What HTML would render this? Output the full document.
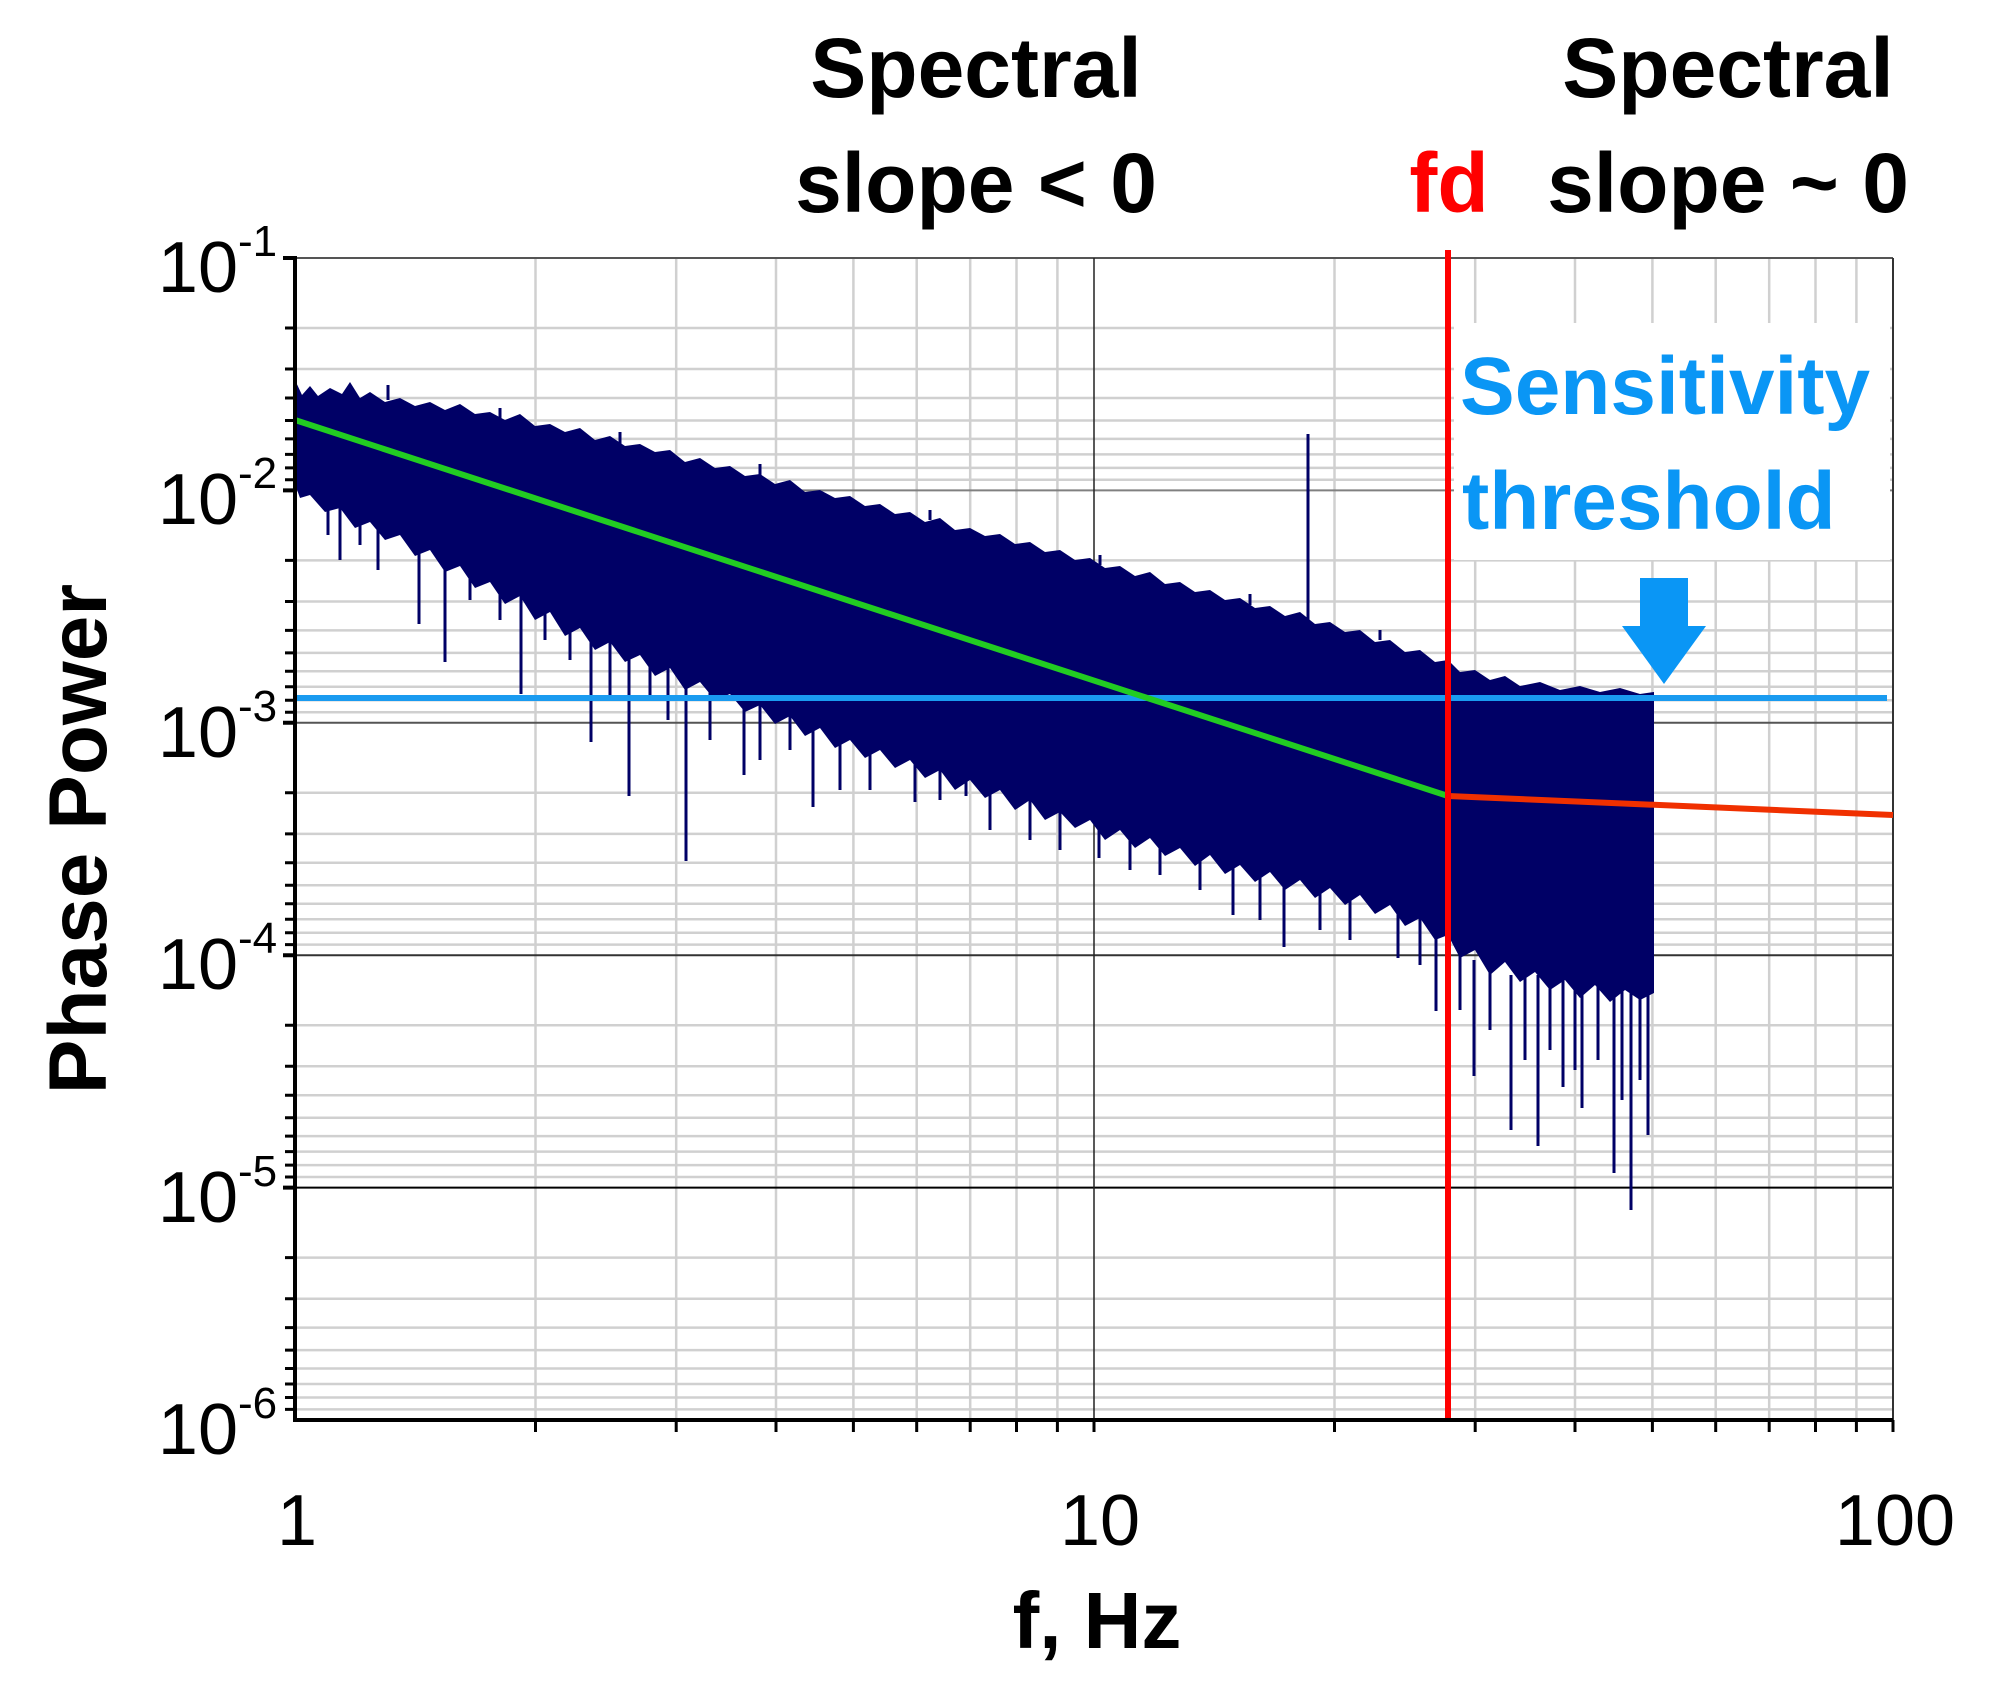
<!DOCTYPE html>
<html><head><meta charset="utf-8"><style>
html,body{margin:0;padding:0;background:#fff;}
svg{display:block;}
text{font-family:"Liberation Sans",sans-serif;}
</style></head><body>
<svg width="1993" height="1687" viewBox="0 0 1993 1687" xmlns="http://www.w3.org/2000/svg">
<rect width="1993" height="1687" fill="#fff"/>
<g stroke="#d0d0d0" stroke-width="2.5">
<path d="M295 328.0H1893M295 369.0H1893M295 398.0H1893M295 420.5H1893M295 438.9H1893M295 454.4H1893M295 467.9H1893M295 479.8H1893
M295 560.4H1893M295 601.5H1893M295 630.4H1893M295 652.9H1893M295 671.3H1893M295 686.8H1893M295 700.3H1893M295 712.2H1893
M295 792.8H1893M295 833.9H1893M295 862.8H1893M295 885.3H1893M295 903.7H1893M295 919.2H1893M295 932.7H1893M295 944.6H1893
M295 1025.2H1893M295 1066.3H1893M295 1095.2H1893M295 1117.7H1893M295 1136.1H1893M295 1151.6H1893M295 1165.1H1893M295 1177.0H1893
M295 1257.6H1893M295 1298.7H1893M295 1327.6H1893M295 1350.1H1893M295 1368.5H1893M295 1384.0H1893M295 1397.5H1893M295 1409.4H1893"/>
<path d="M535.5 258V1420M676.2 258V1420M776 258V1420M853.4 258V1420M916.7 258V1420M970.2 258V1420M1016.5 258V1420M1057.4 258V1420
M1334.5 258V1420M1475.2 258V1420M1575 258V1420M1652.4 258V1420M1715.7 258V1420M1769.2 258V1420M1815.5 258V1420M1856.4 258V1420"/>
</g>
<g stroke-width="2">
<line x1="295" x2="1893" y1="490.4" y2="490.4" stroke="#808080"/>
<line x1="295" x2="1893" y1="722.8" y2="722.8" stroke="#555"/>
<line x1="295" x2="1893" y1="955.2" y2="955.2" stroke="#333"/>
<line x1="295" x2="1893" y1="1187.6" y2="1187.6" stroke="#000"/>
<line x1="295" x2="1893" y1="258" y2="258" stroke="#555"/>
<line x1="1893" x2="1893" y1="258" y2="1420" stroke="#333"/>
</g>
<line x1="1094" x2="1094" y1="258" y2="1420" stroke="#222" stroke-width="1.5"/>
<polygon fill="#000066" points="295,380 302,395 310,386 318,396 330,388 342,394 350,382 360,398 370,392 385,402 400,398 415,406 430,402 445,410 460,404 475,414 490,412 505,420 520,414 535,426 550,424 565,432 580,428 595,440 610,436 625,446 640,444 655,452 670,450 685,462 700,458 715,468 730,466 745,476 760,474 775,484 790,480 805,492 820,490 835,498 850,496 865,506 880,504 895,514 910,512 925,522 940,518 955,530 970,528 985,536 1000,534 1015,544 1030,542 1045,552 1060,550 1075,560 1090,558 1105,568 1120,566 1135,576 1150,572 1165,584 1180,582 1195,592 1210,590 1225,600 1240,598 1255,608 1270,606 1285,616 1300,612 1315,624 1330,622 1345,632 1360,630 1375,642 1390,640 1405,652 1420,650 1435,662 1448,660 1460,672 1475,670 1490,680 1505,676 1520,686 1540,682 1560,690 1580,686 1600,692 1620,688 1640,694 1654,692
1654,993 1640,1000 1625,990 1610,1002 1595,985 1580,998 1565,980 1550,990 1535,972 1520,982 1505,962 1490,975 1475,950 1460,958 1448,935 1435,940 1420,918 1405,926 1390,905 1375,914 1360,895 1345,905 1330,888 1315,898 1300,880 1285,890 1270,872 1255,882 1240,865 1225,874 1210,855 1195,866 1180,848 1165,856 1150,838 1135,848 1120,830 1105,840 1090,820 1075,828 1060,812 1045,820 1030,800 1015,810 1000,790 985,798 970,780 955,790 940,770 925,778 910,760 895,768 880,750 865,758 850,740 835,748 820,728 805,736 790,716 775,724 760,705 745,712 730,694 715,700 700,682 685,690 670,668 655,676 640,655 625,662 610,642 595,650 580,628 565,636 550,612 535,620 520,596 505,604 490,582 475,588 460,566 445,572 430,550 415,556 400,535 385,540 370,522 355,528 340,508 325,512 310,495 300,498 295,484"/>
<path fill="none" stroke="#000066" stroke-width="3" d="
M328 500V535M340 500V560M360 520V545M378 520V570M419 540V624M445 560V662M470 560V600M500 580V620M521 590V694M545 600V640M570 620V660M591 630V742M610 640V700M629 650V796M650 650V700M668 660V720M686 670V861M710 690V740M744 700V775M760 705V760M790 716V750M813 730V807M840 740V790M870 750V790M915 760V802M940 770V800M966 780V796M990 790V830M1030 800V840M1060 812V850M1099 820V858M1130 830V870M1160 840V875M1200 855V890M1233 865V915M1260 875V920M1284 880V947M1320 890V930M1350 895V940M1398 905V958M1420 918V965M1436 930V1011
M1460 950V1010M1474 960V1076M1490 970V1030M1511 975V1130M1525 975V1060M1538 975V1146M1550 980V1050M1563 980V1087M1575 985V1070M1582 985V1108M1598 985V1060M1614 990V1173M1622 990V1100M1631 990V1210M1640 990V1080M1648 990V1135
M295 380V370M388 400V385M500 420V408M620 444V432M760 476V464M930 520V510M1100 565V555M1250 605V594M1308 620V434M1380 640V630"/>
<line x1="295" y1="698" x2="1887" y2="698" stroke="#1a9bf0" stroke-width="6"/>
<line x1="295" y1="420" x2="1448" y2="796" stroke="#22cc22" stroke-width="6"/>
<line x1="1448" y1="796" x2="1893" y2="815" stroke="#f03000" stroke-width="6"/>
<line x1="1448" y1="250" x2="1448" y2="1420" stroke="#ff0000" stroke-width="6"/>
<rect x="1454" y="323" width="436" height="237" fill="#fff"/>
<g stroke="#000" stroke-width="3">
<path d="M285 328.0H295M285 369.0H295M285 398.0H295M285 420.5H295M285 438.9H295M285 454.4H295M285 467.9H295M285 479.8H295
M285 560.4H295M285 601.5H295M285 630.4H295M285 652.9H295M285 671.3H295M285 686.8H295M285 700.3H295M285 712.2H295
M285 792.8H295M285 833.9H295M285 862.8H295M285 885.3H295M285 903.7H295M285 919.2H295M285 932.7H295M285 944.6H295
M285 1025.2H295M285 1066.3H295M285 1095.2H295M285 1117.7H295M285 1136.1H295M285 1151.6H295M285 1165.1H295M285 1177.0H295
M285 1257.6H295M285 1298.7H295M285 1327.6H295M285 1350.1H295M285 1368.5H295M285 1384.0H295M285 1397.5H295M285 1409.4H295"/>
<path d="M535.5 1420v12M676.2 1420v12M776 1420v12M853.4 1420v12M916.7 1420v12M970.2 1420v12M1016.5 1420v12M1057.4 1420v12M1094 1420v12
M1334.5 1420v12M1475.2 1420v12M1575 1420v12M1652.4 1420v12M1715.7 1420v12M1769.2 1420v12M1815.5 1420v12M1856.4 1420v12M1893 1420v12"/>
</g>
<g stroke="#000" stroke-width="4">
<path d="M283 258H295M283 490.4H295M283 722.8H295M283 955.2H295M283 1187.6H295"/>
<line x1="295" x2="295" y1="256" y2="1422"/>
<line x1="293" x2="1893" y1="1420" y2="1420"/>
</g>
<text x="1460" y="414" font-size="82" font-weight="bold" fill="#0a96f5">Sensitivity</text>
<text x="1462" y="529" font-size="82" font-weight="bold" fill="#0a96f5">threshold</text>
<polygon points="1640,578 1688,578 1688,626 1706,626 1664,684 1622,626 1640,626" fill="#0a96f5"/>
<text x="976" y="97" font-size="84" font-weight="bold" text-anchor="middle">Spectral</text>
<text x="976" y="212" font-size="84" font-weight="bold" text-anchor="middle">slope &lt; 0</text>
<text x="1728" y="97" font-size="84" font-weight="bold" text-anchor="middle">Spectral</text>
<text x="1728" y="212" font-size="84" font-weight="bold" text-anchor="middle">slope ~ 0</text>
<text x="1449" y="212" font-size="84" font-weight="bold" text-anchor="middle" fill="#ff0000">fd</text>
<text x="1097" y="1648" font-size="80" font-weight="bold" text-anchor="middle">f, Hz</text>
<text transform="translate(106,839) rotate(-90)" font-size="82" font-weight="bold" text-anchor="middle">Phase Power</text>
<g font-size="72">
<text x="297" y="1545" text-anchor="middle">1</text>
<text x="1100" y="1545" text-anchor="middle">10</text>
<text x="1895" y="1545" text-anchor="middle">100</text>
</g>
<g font-size="72" text-anchor="end">
<text x="238" y="292">10</text>
<text x="238" y="524">10</text>
<text x="238" y="757">10</text>
<text x="238" y="989">10</text>
<text x="238" y="1222">10</text>
<text x="238" y="1454">10</text>
</g>
<g font-size="44">
<text x="238" y="256">-1</text>
<text x="238" y="488">-2</text>
<text x="238" y="721">-3</text>
<text x="238" y="953">-4</text>
<text x="238" y="1186">-5</text>
<text x="238" y="1418">-6</text>
</g>
</svg>
</body></html>
